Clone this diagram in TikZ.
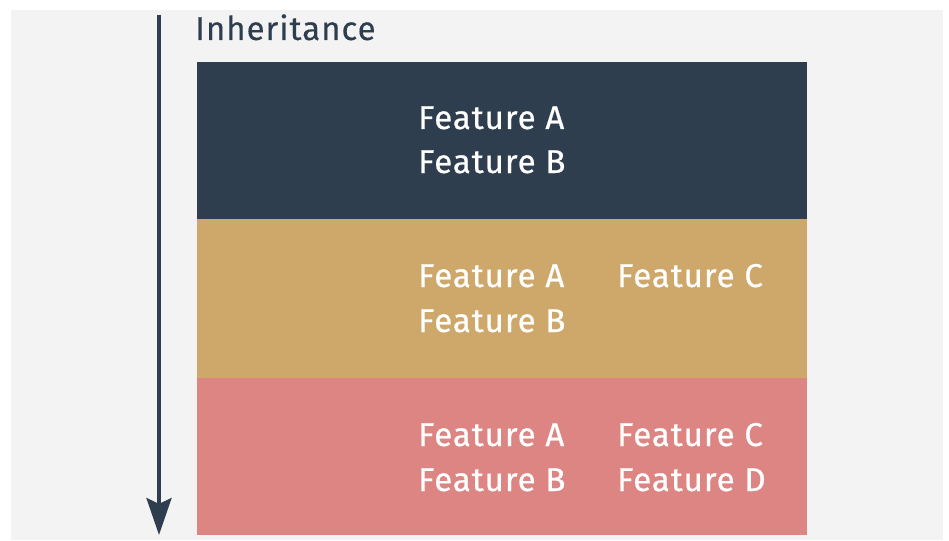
\documentclass[tikz,border=0pt]{standalone}
\usepackage{fontspec}
\setmainfont{Fira Sans}
\newfontfamily\featfont[LetterSpace=3,FakeBold=0.6]{Fira Sans}
\newfontfamily\titlefont[LetterSpace=3,FakeBold=0.3]{Fira Sans}
\usetikzlibrary{arrows.meta}
\definecolor{navy}{HTML}{2E3E4F}
\definecolor{gold}{HTML}{CEA76A}
\definecolor{rose}{HTML}{DD8583}
\definecolor{panel}{HTML}{F3F3F3}
\tikzset{
  band/.style={anchor=north west, inner sep=0pt, minimum width=610pt, draw=none},
  feat/.style={anchor=base west, inner sep=0pt, text=white, font=\featfont\fontsize{33}{33}\selectfont},
}
\begin{document}
\begin{tikzpicture}[x=1pt,y=-1pt]
\useasboundingbox (0,0) rectangle (949,540);
\fill[white] (0,0) rectangle (949,540);
\fill[panel] (11,10) rectangle (943,540);
\node[band, fill=navy, minimum height=157pt] (b1) at (197,62) {};
\node[band, fill=gold, minimum height=159pt] (b2) at (197,219) {};
\node[band, fill=rose, minimum height=157pt] (b3) at (197,378) {};
\node[anchor=base west, inner sep=0pt, text=navy, font=\titlefont\fontsize{33}{33}\selectfont] (inh) at (195,40) {Inheritance};
\coordinate (top) at (159,15);
\coordinate (bot) at (159,535);
\draw[navy, line width=4pt, -{Stealth[width=25pt,length=37pt,inset=6pt]}] (top) -- (bot);
\node[feat] (a1) at (418,129) {Feature A};
\node[feat] (b1t) at (418,173) {Feature B};
\node[feat] (a2) at (418,287) {Feature A};
\node[feat] (b2t) at (418,332) {Feature B};
\node[feat] (c2) at (617,287) {Feature C};
\node[feat] (a3) at (418,446) {Feature A};
\node[feat] (b3t) at (418,491) {Feature B};
\node[feat] (c3) at (617,446) {Feature C};
\node[feat] (d3) at (617,491) {Feature D};
\end{tikzpicture}
\end{document}
